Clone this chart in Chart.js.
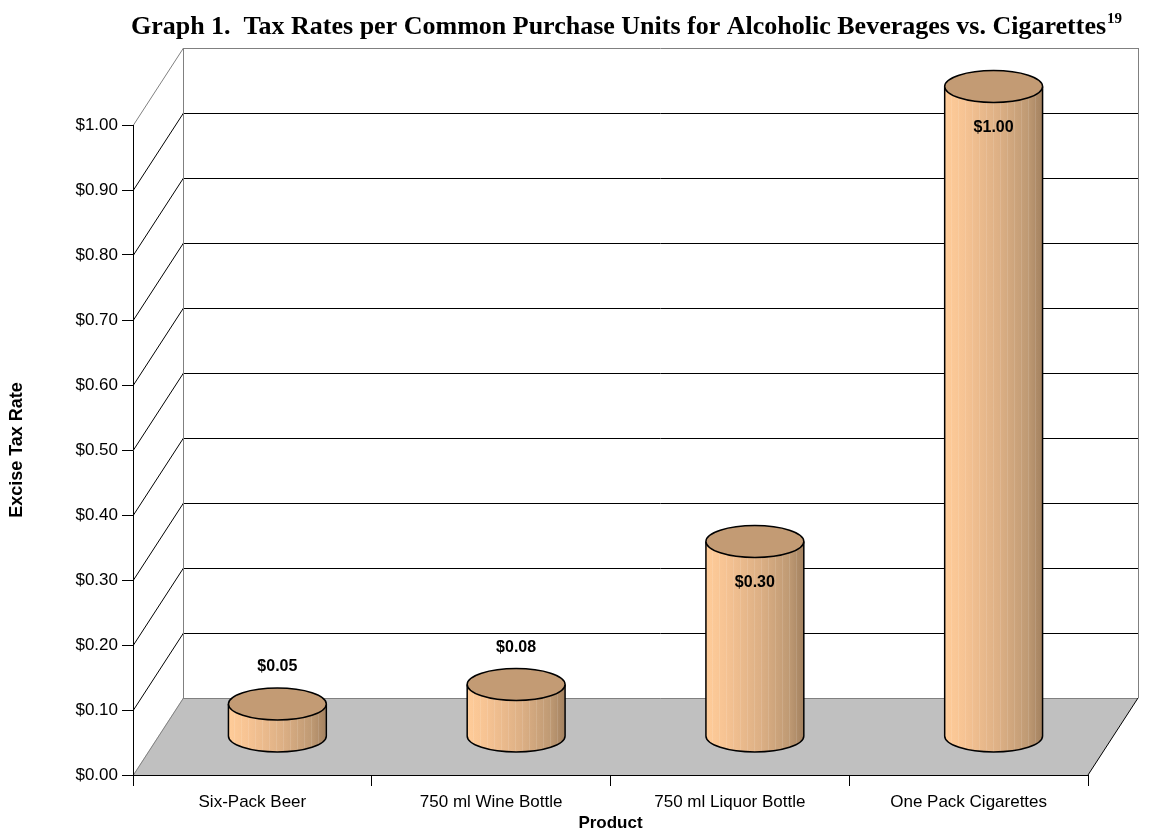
<!DOCTYPE html>
<html><head><meta charset="utf-8">
<script src="https://cdn.jsdelivr.net/npm/chart.js@4/dist/chart.umd.min.js"></script>
<style>html,body{margin:0;padding:0;background:#fff;} canvas{display:block;}</style>
</head><body>
<canvas id="c" width="1153" height="832"></canvas>
<script>
const titleText = 'Graph 1.  Tax Rates per Common Purchase Units for Alcoholic Beverages vs. Cigarettes';
const titleNote = '19';
const categories = ['Six-Pack Beer', '750 ml Wine Bottle', '750 ml Liquor Bottle', 'One Pack Cigarettes'];
const taxRates = [0.05, 0.08, 0.30, 1.00];
const yTickValues = [0.0, 0.1, 0.2, 0.3, 0.4, 0.5, 0.6, 0.7, 0.8, 0.9, 1.0];
const xAxisTitle = 'Product';
const yAxisTitle = 'Excise Tax Rate';

const DX = 50, DY = -77, RY = 16;
const SANS = '"Liberation Sans", Arial, sans-serif';
const SERIF = '"Liberation Serif", "Times New Roman", serif';
const money = v => '$' + v.toFixed(2);
const px = v => Math.round(v) + 0.5;

const scene3d = {
  id: 'scene3d',
  beforeDraw(chart) {
    const { ctx, chartArea: a, scales: { y } } = chart;
    const y0 = y.getPixelForValue(yTickValues[0]);
    const yTop = y.getPixelForValue(yTickValues[yTickValues.length - 1]);
    ctx.save();
    ctx.lineWidth = 1;
    ctx.beginPath();
    ctx.moveTo(a.left, y0); ctx.lineTo(a.right, y0);
    ctx.lineTo(a.right + DX, y0 + DY); ctx.lineTo(a.left + DX, y0 + DY);
    ctx.closePath();
    ctx.fillStyle = '#C0C0C0';
    ctx.fill();
    yTickValues.forEach((v, i) => {
      const yy = y.getPixelForValue(v);
      const edge = (i === 0 || i === yTickValues.length - 1);
      ctx.strokeStyle = edge ? '#808080' : '#000000';
      ctx.beginPath();
      ctx.moveTo(a.left + DX, px(yy + DY)); ctx.lineTo(a.right + DX, px(yy + DY));
      ctx.stroke();
      ctx.beginPath();
      ctx.moveTo(a.left + 0.5, yy); ctx.lineTo(a.left + DX + 0.5, yy + DY);
      ctx.stroke();
    });
    ctx.strokeStyle = '#808080';
    ctx.beginPath();
    ctx.moveTo(px(a.left + DX), yTop + DY); ctx.lineTo(px(a.left + DX), y0 + DY);
    ctx.moveTo(px(a.right + DX), yTop + DY); ctx.lineTo(px(a.right + DX), y0 + DY);
    ctx.stroke();
    ctx.strokeStyle = '#000000';
    ctx.beginPath();
    ctx.moveTo(a.right, y0); ctx.lineTo(a.right + DX, y0 + DY);
    ctx.stroke();
    ctx.restore();
  },
  afterDatasetsDraw(chart) {
    const { ctx } = chart;
    const meta = chart.getDatasetMeta(0);
    ctx.save();
    meta.data.forEach((bar, i) => {
      const cx = bar.x + DX / 2;
      const r = bar.width / 2;
      const yb = bar.base + DY / 2;
      const yt = bar.y + DY / 2;
      const g = ctx.createLinearGradient(cx - r, 0, cx + r, 0);
      g.addColorStop(0, '#FFCC99');
      g.addColorStop(0.2, '#F6C393');
      g.addColorStop(0.55, '#DDB085');
      g.addColorStop(0.85, '#BF9A74');
      g.addColorStop(1, '#A3815F');
      ctx.beginPath();
      ctx.moveTo(cx - r, yt);
      ctx.lineTo(cx - r, yb);
      ctx.ellipse(cx, yb, r, RY, 0, Math.PI, 0, true);
      ctx.lineTo(cx + r, yt);
      ctx.ellipse(cx, yt, r, RY, 0, 0, Math.PI, false);
      ctx.closePath();
      ctx.fillStyle = g;
      ctx.fill();
      ctx.save();
      ctx.clip();
      ctx.strokeStyle = 'rgba(255,255,255,0.12)';
      ctx.lineWidth = 1;
      for (let sx = cx - r + 6; sx < cx + r; sx += 7) {
        ctx.beginPath();
        ctx.moveTo(Math.round(sx) + 0.5, yt - RY);
        ctx.lineTo(Math.round(sx) + 0.5, yb + RY);
        ctx.stroke();
      }
      ctx.restore();
      ctx.strokeStyle = '#000000';
      ctx.lineWidth = 1.5;
      ctx.beginPath();
      ctx.moveTo(cx - r, yt);
      ctx.lineTo(cx - r, yb);
      ctx.ellipse(cx, yb, r, RY, 0, Math.PI, 0, true);
      ctx.lineTo(cx + r, yt);
      ctx.stroke();
      ctx.beginPath();
      ctx.ellipse(cx, yt, r, RY, 0, 0, Math.PI * 2);
      ctx.fillStyle = '#C39B74';
      ctx.fill();
      ctx.stroke();
      ctx.fillStyle = '#000000';
      ctx.font = 'bold 16px ' + SANS;
      ctx.textAlign = 'center';
      ctx.textBaseline = 'middle';
      const inside = (yb - yt) > 80;
      ctx.fillText(money(taxRates[i]), cx, inside ? yt + 41 : yt - 37);
    });
    ctx.restore();
  },
  afterDraw(chart) {
    const { ctx } = chart;
    ctx.save();
    ctx.fillStyle = '#000000';
    ctx.textBaseline = 'alphabetic';
    ctx.font = 'bold 26px ' + SERIF;
    const w = ctx.measureText(titleText).width;
    ctx.font = 'bold 15px ' + SERIF;
    const ws = ctx.measureText(titleNote).width;
    const x0 = 626 - (w + ws) / 2;
    ctx.font = 'bold 26px ' + SERIF;
    ctx.textAlign = 'left';
    ctx.fillText(titleText, x0, 34);
    ctx.font = 'bold 15px ' + SERIF;
    ctx.fillText(titleNote, x0 + w + 1, 23);
    ctx.restore();
  }
};

new Chart(document.getElementById('c'), {
  type: 'bar',
  data: {
    labels: categories,
    datasets: [{
      label: 'Excise Tax Rate',
      data: taxRates,
      backgroundColor: 'rgba(0,0,0,0)',
      borderWidth: 0,
      categoryPercentage: 1,
      barPercentage: 0.41
    }]
  },
  options: {
    responsive: false,
    animation: false,
    events: [],
    layout: { padding: { top: 125, right: 65, left: 0, bottom: 0 } },
    plugins: { legend: { display: false }, tooltip: { enabled: false }, title: { display: false } },
    scales: {
      x: {
        afterFit(s) { s.height = 57; },
        grid: { display: true, offset: true, drawOnChartArea: false, drawTicks: true, tickLength: 11, color: '#000000' },
        border: { display: true, color: '#000000', width: 1 },
        ticks: { color: '#000000', padding: 6, font: { family: SANS, size: 17 }, maxRotation: 0, autoSkip: false },
        title: { display: true, text: xAxisTitle, color: '#000000', font: { family: SANS, size: 17, weight: 'bold', lineHeight: 1 }, padding: { top: 0, bottom: 0 } }
      },
      y: {
        min: yTickValues[0],
        max: yTickValues[yTickValues.length - 1],
        afterFit(s) { s.width = 133; },
        afterBuildTicks(s) { s.ticks = yTickValues.map(v => ({ value: v })); },
        grid: { display: true, drawOnChartArea: false, drawTicks: true, tickLength: 11, color: '#000000' },
        border: { display: true, color: '#000000', width: 1 },
        ticks: { color: '#000000', padding: 4, font: { family: SANS, size: 17 }, callback: v => money(v) },
        title: { display: true, text: yAxisTitle, color: '#000000', font: { family: SANS, size: 18, weight: 'bold' }, padding: { top: 6, bottom: 0 } }
      }
    }
  },
  plugins: [scene3d]
});
</script>
</body></html>
